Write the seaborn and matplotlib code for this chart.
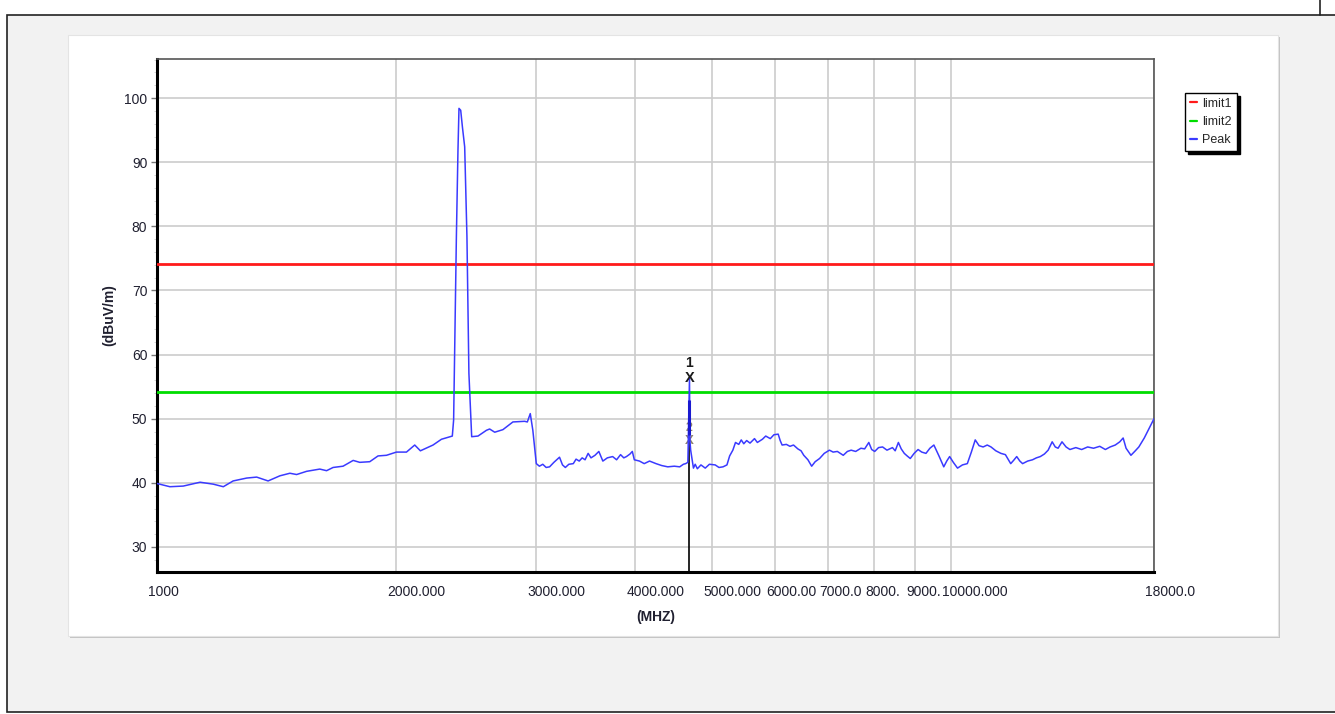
import numpy as np
import pandas as pd
import matplotlib
matplotlib.use("Agg")
import matplotlib.pyplot as plt
import matplotlib.transforms as mtransforms
from matplotlib.patches import Rectangle
from matplotlib.lines import Line2D
from matplotlib.ticker import FixedLocator, FixedFormatter, MultipleLocator, NullLocator
import seaborn as sns

# Peak trace, (MHz, dBuV/m) pairs by band
band_low = [(1000, 39.9), (1038, 39.4), (1079, 39.5), (1133, 40.1), (1177, 39.8),
            (1212, 39.4), (1247, 40.3), (1297, 40.75), (1335, 40.9), (1380, 40.3),
            (1428, 41.1), (1470, 41.5), (1499, 41.3), (1543, 41.8), (1603, 42.15),
            (1635, 41.9), (1666, 42.4), (1715, 42.6), (1766, 43.5), (1800, 43.2),
            (1853, 43.3), (1898, 44.2), (1945, 44.3), (2002, 44.8), (2061, 44.8),
            (2111, 45.9), (2146, 45.0), (2226, 45.9), (2281, 46.8), (2354, 47.3)]
band_carrier = [(2363, 49.8), (2382, 78.4), (2393, 91.9), (2400, 98.4), (2412, 98.1),
                (2424, 95.5), (2440, 92.4), (2456, 78.4), (2470, 57.1), (2490, 47.2)]
band_mid = [(2536, 47.3), (2599, 48.2), (2623, 48.4), (2662, 47.9), (2726, 48.3),
            (2806, 49.5), (2903, 49.6), (2926, 49.5), (2951, 50.8), (2973, 48.2),
            (3003, 43.0), (3030, 42.6), (3060, 42.9), (3090, 42.4), (3121, 42.5),
            (3160, 43.2), (3212, 44.0), (3240, 42.8), (3267, 42.4), (3300, 42.9),
            (3343, 43.0), (3370, 43.7), (3401, 43.4), (3430, 43.9), (3459, 43.6),
            (3490, 44.6), (3519, 43.9), (3560, 44.3), (3600, 44.9), (3620, 44.2),
            (3642, 43.4), (3690, 43.9), (3747, 44.1), (3790, 43.6), (3834, 44.4),
            (3870, 43.9), (3900, 44.1), (3940, 44.5), (3967, 44.9), (3990, 43.6),
            (4050, 43.4), (4106, 43.0), (4170, 43.4), (4249, 43.0), (4320, 42.7),
            (4396, 42.5), (4480, 42.6), (4551, 42.5), (4600, 42.9), (4630, 43.0),
            (4660, 43.2), (4676, 52.8), (4682, 56.3), (4688, 46.6), (4698, 45.1)]
band_high = [(4736, 42.3), (4760, 42.9), (4790, 42.2), (4840, 42.8), (4901, 42.3),
             (4960, 42.9), (5044, 42.8), (5100, 42.4), (5160, 42.5), (5219, 42.8),
             (5260, 44.2), (5309, 45.1), (5350, 46.3), (5401, 46.0), (5440, 46.7),
             (5480, 46.1), (5526, 46.6), (5580, 46.2), (5653, 46.9), (5700, 46.3),
             (5784, 46.8), (5840, 47.3), (5918, 46.9), (5980, 47.5), (6055, 47.6),
             (6090, 46.6), (6124, 45.9), (6200, 46.0), (6265, 45.7), (6330, 45.9),
             (6410, 45.3), (6470, 45.0), (6521, 44.3), (6600, 43.6), (6672, 42.6),
             (6740, 43.3), (6827, 43.8), (6920, 44.6), (7025, 45.1), (7100, 44.8),
             (7188, 44.9), (7250, 44.6), (7312, 44.3), (7400, 44.9), (7481, 45.1),
             (7580, 44.9), (7696, 45.4), (7780, 45.3), (7874, 46.3), (7940, 45.2),
             (8010, 44.9), (8100, 45.5), (8195, 45.6), (8300, 45.1), (8433, 45.5),
             (8500, 45.0), (8579, 46.3), (8650, 45.3), (8727, 44.6), (8800, 44.2),
             (8880, 43.8), (8980, 44.6), (9083, 45.2), (9180, 44.8), (9293, 44.6),
             (9400, 45.4), (9509, 45.9), (9650, 44.2), (9785, 42.5), (9870, 43.4),
             (9953, 44.1), (10060, 43.2), (10184, 42.3), (10330, 42.8), (10477, 43.0),
             (10600, 44.8), (10720, 46.7), (10840, 45.8), (10968, 45.6), (11100, 45.9),
             (11222, 45.6), (11380, 45.0), (11548, 44.6), (11700, 44.4), (11881, 43.0),
             (11980, 43.5), (12090, 44.1), (12200, 43.4), (12298, 43.0), (12480, 43.4),
             (12656, 43.6), (12800, 43.9), (12945, 44.1), (13100, 44.5), (13244, 45.1),
             (13399, 46.4), (13520, 45.6), (13630, 45.4), (13786, 46.4), (13950, 45.6),
             (14106, 45.2), (14350, 45.5), (14595, 45.2), (14850, 45.6), (15107, 45.4),
             (15380, 45.7), (15633, 45.2), (15850, 45.6), (16088, 45.9), (16300, 46.4),
             (16460, 47.0), (16600, 45.4), (16836, 44.3), (17050, 45.0), (17226, 45.6),
             (17500, 47.0), (18000, 50.0)]

limit1 = 74.2
limit2 = 54.2

marker_freq = 4682
marker1_level = 56.3
marker2_level = 46.6

x_ticks = [1000, 2000, 3000, 4000, 5000, 6000, 7000, 8000, 9000, 10000, 18000]
x_tick_labels = ["1000", "2000.000", "3000.000", "4000.000", "5000.000", "6000.00",
                 "7000.0", "8000.", "9000.", "10000.000", "18000.0"]

sns.set_style("white")
plt.rcParams['font.family'] = ['Liberation Sans', 'DejaVu Sans']

W, H = 1335, 714
fig = plt.figure(figsize=(W / 100, H / 100), dpi=100, facecolor="white")

def px(x0, y0, x1, y1):
    # pixel box -> figure fraction (x, y, w, h)
    return x0 / W, 1 - y1 / H, (x1 - x0) / W, (y1 - y0) / H

# grey page area with frame, white chart panel with a shadow
x, y, w, h = px(7, 15, 1345, 712)
fig.add_artist(Rectangle((x, y), w, h, transform=fig.transFigure, facecolor="#f2f2f2",
                         edgecolor="#222222", lw=1.2, zorder=-20))
fig.add_artist(Line2D([1320 / W, 1320 / W], [1 - 15 / H, 1], transform=fig.transFigure,
                      color="#222222", lw=1.2, zorder=-19))
x, y, w, h = px(70, 37, 1280, 638)
fig.add_artist(Rectangle((x, y), w, h, transform=fig.transFigure, facecolor="#c4c4c4",
                         edgecolor="none", zorder=-18))
x, y, w, h = px(68, 35, 1278, 636)
fig.add_artist(Rectangle((x, y), w, h, transform=fig.transFigure, facecolor="white",
                         edgecolor="#e4e4e4", lw=0.8, zorder=-17))

ax = fig.add_axes(px(157, 59, 1154, 572))
ax.set_facecolor("white")

ax.axhline(limit1, color="#ff1a1a", lw=2, label="limit1", zorder=3)
ax.axhline(limit2, color="#00dd00", lw=2, label="limit2", zorder=3)

trace = band_low + band_carrier + band_mid + band_high
df = pd.DataFrame(trace, columns=["freq", "level"])
ax.vlines(marker_freq, 26.1, 52.7, color="black", lw=1.2, zorder=3)
sns.lineplot(data=df, x="freq", y="level", ax=ax, color="#3a3aff", lw=1.1,
             estimator=None, sort=False, label="Peak", zorder=4)
# overlapping marker sweeps make the lower part of the spike look heavier
ax.vlines(marker_freq, 47.5, 53.0, color="#1a1ad0", lw=2.2, zorder=4)

ax.text(marker_freq, marker2_level, "X", ha="center", va="center", fontsize=9.5,
        fontweight="bold", color="#5a4a30", alpha=0.7, zorder=3)
ax.text(marker_freq, marker2_level + 1.9, "2", ha="center", va="center", fontsize=9,
        fontweight="bold", color="#5a4a30", alpha=0.7, zorder=3)
ax.text(marker_freq, marker1_level, "X", ha="center", va="center", fontsize=10.5,
        fontweight="bold", color="#1a1a1a", zorder=5)
ax.text(marker_freq, marker1_level + 2.4, "1", ha="center", va="center", fontsize=10,
        fontweight="bold", color="#1a1a1a", zorder=5)

ax.set_xscale("log")
ax.set_xlim(1000, 18000)
ax.set_ylim(26.1, 106.1)

ax.xaxis.set_major_locator(FixedLocator(x_ticks))
ax.xaxis.set_major_formatter(FixedFormatter(x_tick_labels))
ax.xaxis.set_minor_locator(NullLocator())
ax.yaxis.set_major_locator(MultipleLocator(10))
ax.yaxis.set_minor_locator(MultipleLocator(2))

ax.grid(True, which="major", color="#cccccc", lw=1.2, zorder=0)
ax.set_axisbelow(True)

ax.tick_params(axis="x", length=0, pad=9, labelsize=10, labelcolor="#202030")
ax.tick_params(axis="y", which="major", direction="out", length=4, width=1,
               color="#777777", pad=3, labelsize=10, labelcolor="#202030", left=True)
ax.tick_params(axis="y", which="minor", direction="out", length=2, width=0.6,
               color="#cfcfcf", left=True)
offset = mtransforms.ScaledTranslation(-9 / 100, 0, fig.dpi_scale_trans)
for lab in ax.get_xticklabels():
    lab.set_ha("left")
    lab.set_transform(lab.get_transform() + offset)

for side in ["left", "bottom"]:
    ax.spines[side].set_color("black")
    ax.spines[side].set_linewidth(2.2)
for side in ["top", "right"]:
    ax.spines[side].set_color("#555555")
    ax.spines[side].set_linewidth(1.2)

ax.set_xlabel("(MHZ)", fontsize=10, fontweight="bold", labelpad=8, color="#202030")
ax.set_ylabel("(dBuV/m)", fontsize=10, fontweight="bold", labelpad=6, color="#202030")

handles, labels = ax.get_legend_handles_labels()
order = [labels.index(k) for k in ["limit1", "limit2", "Peak"]]
leg = ax.legend([handles[i] for i in order], [labels[i] for i in order],
                loc="upper left", bbox_to_anchor=(1.031, 0.934), fontsize=9,
                frameon=True, fancybox=False, shadow={"color": "black", "alpha": 1},
                handlelength=0.6, handletextpad=0.4, labelspacing=0.5,
                borderpad=0.4, borderaxespad=0)
leg.get_frame().set_edgecolor("black")
leg.get_frame().set_linewidth(1)
for line in leg.get_lines():
    line.set_linewidth(1.6)

fig.savefig("out.png", dpi=100, facecolor=fig.get_facecolor())
